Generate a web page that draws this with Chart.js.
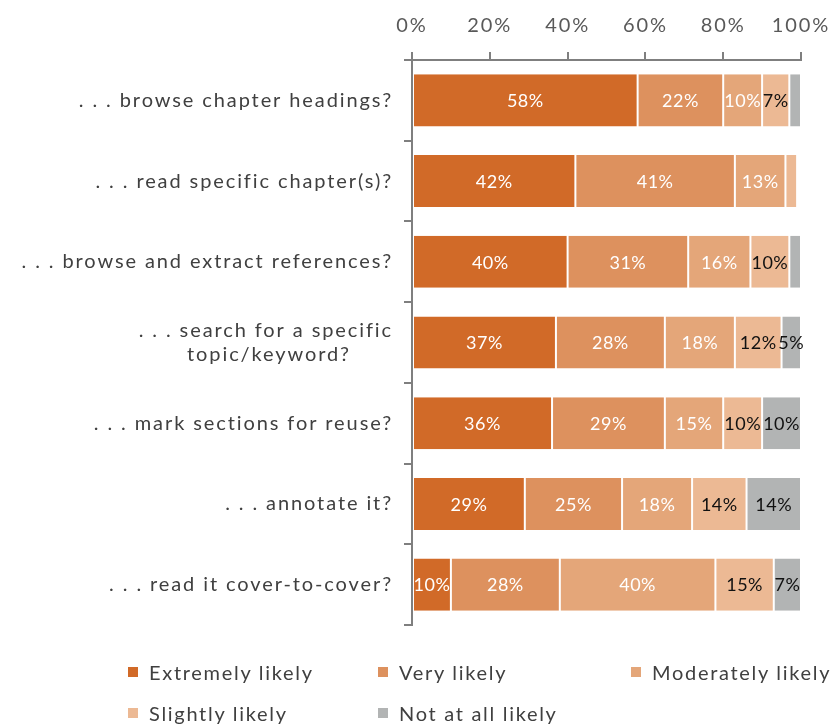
<!DOCTYPE html>
<html>
<head>
<meta charset="utf-8">
<script src="https://cdn.jsdelivr.net/npm/chart.js@4"></script>
<style>
  html, body { margin: 0; padding: 0; background: #fff; }
  #wrap { position: relative; width: 836px; height: 726px; overflow: hidden; }
  #legend {
    position: absolute; left: 128px; top: 660px;
    display: grid; grid-template-columns: 250px 253px 220px; row-gap: 17px;
    font-family: Lato, sans-serif; font-size: 20px; color: #404040; letter-spacing: 1.7px;
  }
  #legend div { display: flex; align-items: center; white-space: nowrap; line-height: 24px; }
  #legend span.box { display: inline-block; width: 10px; height: 10px; margin-right: 11px; }
</style>
</head>
<body>
<div id="wrap">
  <canvas id="chart" width="836" height="726"></canvas>
  <div id="legend"></div>
</div>
<script>
const nbsp = '\u00a0';
const categories = [
  '. . . browse chapter headings?',
  '. . . read specific chapter(s)?',
  '. . . browse and extract references?',
  ['. . . search for a specific', 'topic/keyword?' + nbsp.repeat(6)],
  '. . . mark sections for reuse?',
  '. . . annotate it?',
  '. . . read it cover-to-cover?'
];
const seriesNames = ['Extremely likely', 'Very likely', 'Moderately likely', 'Slightly likely', 'Not at all likely'];
const extremely = [58, 42, 40, 37, 36, 29, 10];
const very      = [22, 41, 31, 28, 29, 25, 28];
const moderate  = [10, 13, 16, 18, 15, 18, 40];
const slightly  = [7, 3, 10, 12, 10, 14, 15];
const notAtAll  = [3, 0, 3, 5, 10, 14, 7];
const xTicks = [0, 20, 40, 60, 80, 100];

const colors = ['#D16A28', '#DD915E', '#E4A679', '#ECB994', '#B2B4B4'];
const labelColors = ['#ffffff', '#ffffff', '#ffffff', '#111111', '#111111'];
const allValues = [extremely, very, moderate, slightly, notAtAll];

// wider text like the original rendering
const spacing = {
  id: 'spacing',
  beforeDraw(chart) { chart.ctx.letterSpacing = '1.9px'; }
};

// labels inside the segments
const barLabels = {
  id: 'barLabels',
  afterDatasetsDraw(chart) {
    const ctx = chart.ctx;
    ctx.save();
    ctx.letterSpacing = '0.5px';
    ctx.font = '18px Lato';
    ctx.textAlign = 'center';
    ctx.textBaseline = 'middle';
    chart.data.datasets.forEach((ds, i) => {
      const meta = chart.getDatasetMeta(i);
      meta.data.forEach((bar, j) => {
        const v = ds.data[j];
        if (v < 5) return;
        ctx.fillStyle = labelColors[i];
        ctx.fillText(v + '%', (bar.x + bar.base) / 2, bar.y + 1);
      });
    });
    ctx.restore();
  }
};

new Chart(document.getElementById('chart'), {
  type: 'bar',
  data: {
    labels: categories,
    datasets: allValues.map((vals, i) => ({
      label: seriesNames[i],
      data: vals,
      backgroundColor: colors[i],
      borderColor: '#ffffff',
      borderWidth: { left: 1, right: 1, top: 0, bottom: 0 },
      borderSkipped: false,
      categoryPercentage: 1,
      barPercentage: 0.645
    }))
  },
  options: {
    indexAxis: 'y',
    responsive: false,
    animation: false,
    layout: { padding: { left: 0, right: 35, top: 0, bottom: 101 } },
    plugins: { legend: { display: false }, tooltip: { enabled: false } },
    scales: {
      x: {
        position: 'top',
        stacked: true,
        min: 0, max: 100,
        afterBuildTicks: s => { s.ticks = xTicks.map(v => ({ value: v })); },
        afterFit: s => { s.height = 60; s.paddingLeft = 0; s.paddingRight = 0; },
        border: { color: '#7f7f7f', width: 2 },
        grid: { drawOnChartArea: false, tickLength: 8, color: '#7f7f7f', lineWidth: 2 },
        ticks: {
          callback: v => v + '%',
          color: '#595959',
          font: { family: 'Lato', size: 20 },
          padding: 14,
          maxRotation: 0
        }
      },
      y: {
        stacked: true,
        afterFit: s => { s.width = 412; },
        border: { color: '#7f7f7f', width: 2 },
        grid: { drawOnChartArea: false, tickLength: 8, color: '#7f7f7f', lineWidth: 2 },
        ticks: {
          color: '#404040',
          font: { family: 'Lato', size: 20 },
          padding: 11
        }
      }
    }
  },
  plugins: [spacing, barLabels]
});

const legend = document.getElementById('legend');
seriesNames.forEach((name, i) => {
  const item = document.createElement('div');
  item.innerHTML = '<span class="box" style="background:' + colors[i] + '"></span>' + name;
  legend.appendChild(item);
});
</script>
</body>
</html>
